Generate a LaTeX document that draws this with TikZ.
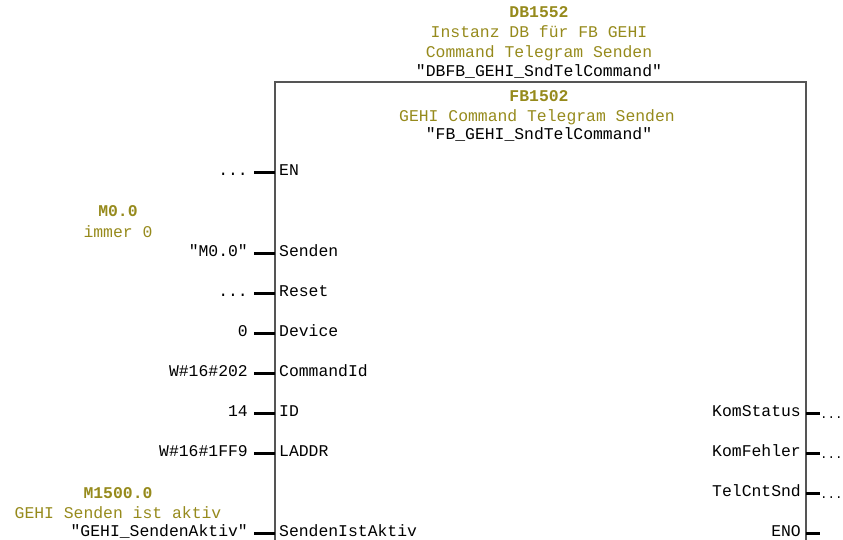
\documentclass[tikz,border=0pt]{standalone}
\usepackage{fontspec}
\newfontfamily\plcfont{Liberation Mono}
\definecolor{plcolive}{RGB}{150,138,28}
\definecolor{boxgray}{RGB}{85,85,85}

\begin{document}
\begin{tikzpicture}[x=1pt, y=-1pt,
  font=\plcfont\fontsize{16.4}{18}\selectfont,
  comment/.style={text=plcolive, inner sep=0pt, anchor=base},
  pinname/.style={inner sep=0pt},
  pinval/.style={inner sep=0pt, anchor=base east},
  outval/.style={inner sep=0pt, anchor=base west, font=\plcfont\fontsize{12.5}{14}\selectfont},
  stub/.style={line width=3pt},
  box/.style={draw=boxgray, line width=1.5pt}]
  \useasboundingbox (0,0) rectangle (843,540);
  \clip (0,0) rectangle (843,540);
  % block frame
  \coordinate (TL) at (275,82);
  \coordinate (TR) at (806,82);
  \coordinate (BL) at (275,560);
  \coordinate (BR) at (806,560);
  \draw[box] (BL) -- (TL) -- (TR) -- (BR);
  % instance DB and FB header
  \node[comment, font=\plcfont\bfseries\fontsize{16.4}{18}\selectfont] (db) at (539,18) {DB1552};
  \node[comment] (dbc1) at (539,38) {Instanz DB für FB GEHI};
  \node[comment] (dbc2) at (539,58) {Command Telegram Senden};
  \node[pinname, anchor=base] (dbsym) at (539,77) {"DBFB\_GEHI\_SndTelCommand"};
  \node[comment, font=\plcfont\bfseries\fontsize{16.4}{18}\selectfont] (fb) at (539,102) {FB1502};
  \node[comment] (fbc) at (537,122) {GEHI Command Telegram Senden};
  \node[pinname, anchor=base] (fbsym) at (539,140) {"FB\_GEHI\_SndTelCommand"};
  % input pins
  \coordinate (enL) at (254,173);    \coordinate (enB) at (275,173);
  \coordinate (sndL) at (254,253);   \coordinate (sndB) at (275,253);
  \coordinate (rstL) at (254,293);   \coordinate (rstB) at (275,293);
  \coordinate (devL) at (254,333);   \coordinate (devB) at (275,333);
  \coordinate (cmdL) at (254,373);   \coordinate (cmdB) at (275,373);
  \coordinate (idL) at (254,413);    \coordinate (idB) at (275,413);
  \coordinate (ladL) at (254,453);   \coordinate (ladB) at (275,453);
  \coordinate (aktL) at (254,533);   \coordinate (aktB) at (275,533);
  \draw[stub] (enL) -- (enB);
  \draw[stub] (sndL) -- (sndB);
  \draw[stub] (rstL) -- (rstB);
  \draw[stub] (devL) -- (devB);
  \draw[stub] (cmdL) -- (cmdB);
  \draw[stub] (idL) -- (idB);
  \draw[stub] (ladL) -- (ladB);
  \draw[stub] (aktL) -- (aktB);
  \node[pinname, anchor=base west] (en) at (279,176) {EN};
  \node[pinname, anchor=base west] (snd) at (279,256) {Senden};
  \node[pinname, anchor=base west] (rst) at (279,296) {Reset};
  \node[pinname, anchor=base west] (dev) at (279,336) {Device};
  \node[pinname, anchor=base west] (cmd) at (279,376) {CommandId};
  \node[pinname, anchor=base west] (id) at (279,416) {ID};
  \node[pinname, anchor=base west] (lad) at (279,456) {LADDR};
  \node[pinname, anchor=base west] (akt) at (279,536) {SendenIstAktiv};
  \node[pinval] (enval) at (248,176) {...};
  \node[pinval] (sndval) at (248,256) {"M0.0"};
  \node[pinval] (rstval) at (248,296) {...};
  \node[pinval] (devval) at (248,336) {0};
  \node[pinval] (cmdval) at (248,376) {W\#16\#202};
  \node[pinval] (idval) at (248,416) {14};
  \node[pinval] (ladval) at (248,456) {W\#16\#1FF9};
  \node[pinval] (aktval) at (248,536) {"GEHI\_SendenAktiv"};
  % operand comments
  \node[comment, font=\plcfont\bfseries\fontsize{16.4}{18}\selectfont] (m0) at (118,217) {M0.0};
  \node[comment] (m0c) at (118,237) {immer 0};
  \node[comment, font=\plcfont\bfseries\fontsize{16.4}{18}\selectfont] (m1500) at (118,498) {M1500.0};
  \node[comment] (m1500c) at (118,518) {GEHI Senden ist aktiv};
  % output pins
  \coordinate (stsB) at (806,413);   \coordinate (stsR) at (820,413);
  \coordinate (errB) at (806,453);   \coordinate (errR) at (820,453);
  \coordinate (telB) at (806,493);   \coordinate (telR) at (820,493);
  \coordinate (enoB) at (806,533);   \coordinate (enoR) at (820,533);
  \draw[stub] (stsB) -- (stsR);
  \draw[stub] (errB) -- (errR);
  \draw[stub] (telB) -- (telR);
  \draw[stub] (enoB) -- (enoR);
  \node[pinname, anchor=base east] (sts) at (801,416) {KomStatus};
  \node[pinname, anchor=base east] (err) at (801,456) {KomFehler};
  \node[pinname, anchor=base east] (tel) at (801,496) {TelCntSnd};
  \node[pinname, anchor=base east] (eno) at (801,536) {ENO};
  \node[outval] (stsval) at (820,418) {...};
  \node[outval] (errval) at (820,458) {...};
  \node[outval] (telval) at (820,498) {...};
\end{tikzpicture}
\end{document}
